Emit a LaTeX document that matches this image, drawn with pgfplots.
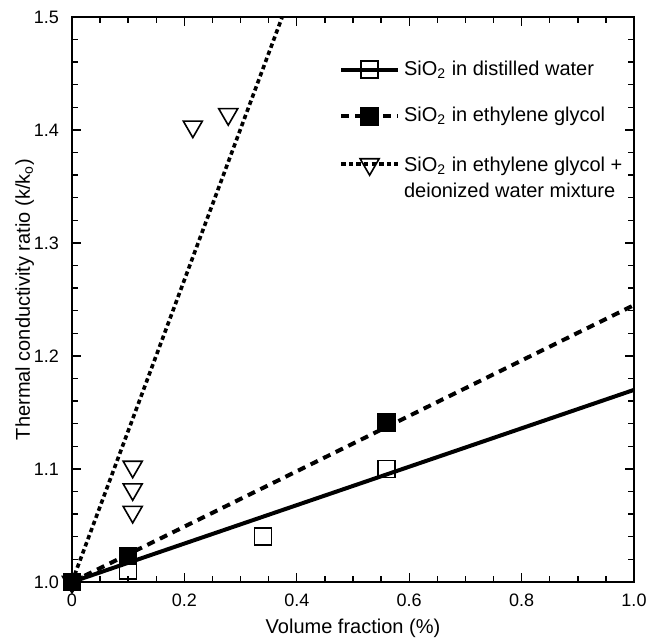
\documentclass[border=0pt]{standalone}
\usepackage{fontspec}
\setmainfont{Liberation Sans}
\usepackage{pgfplots}
\pgfplotsset{compat=1.18}
\pgfplotsset{longleg/.style={legend image code/.code={
    \draw (0cm,0cm) -- (1cm,0cm);
    \draw plot coordinates {(0.5cm,0cm)};}}}
\begin{document}
\begin{tikzpicture}
\begin{axis}[
  scale only axis,
  width=281pt, height=282.5pt,
  xmin=0, xmax=1, ymin=1, ymax=1.5,
  xtick={0,0.2,0.4,0.6,0.8,1.0},
  xticklabels={0,0.2,0.4,0.6,0.8,1.0},
  ytick={1.0,1.1,1.2,1.3,1.4,1.5},
  yticklabels={1.0,1.1,1.2,1.3,1.4,1.5},
  minor x tick num=3, minor y tick num=4,
  tick align=inside,
  major tick length=4.5pt, minor tick length=2.8pt,
  axis line style={line width=0.8pt},
  tick style={line width=0.7pt, black},
  tick label style={font=\fontsize{9}{10}\selectfont},
  xticklabel style={yshift=-2.5pt, inner xsep=1pt},
  yticklabel style={xshift=-3pt},
  label style={font=\fontsize{10}{12}\selectfont, inner sep=0.5pt},
  xlabel={Volume fraction (\%)},
  ylabel={Thermal conductivity ratio (k/k\textsubscript{o})},
  xlabel style={at={(axis description cs:0.5,0)}, anchor=base, yshift=-26pt},
  ylabel style={at={(axis description cs:0,0.5)}, anchor=base, yshift=21pt},
  legend style={draw=none, fill=none, at={(0.464,0.937)}, anchor=north west,
    font=\fontsize{10}{12.5}\selectfont, row sep=10.5pt, cells={anchor=west}},
]
% fitted lines
\addplot[forget plot, black, line width=2pt] coordinates {(0,1.0) (1.0,1.17)};
\addplot[forget plot, black, line width=2pt, dash pattern=on 4pt off 3pt] coordinates {(0,1.0) (1.0,1.245)};
\addplot[forget plot, black, line width=1.8pt, dash pattern=on 2.2pt off 1.6pt] coordinates {(0,1.0) (0.374,1.5)};
% measured points
\addplot[forget plot, only marks, mark=square, mark size=4.25pt, mark options={line width=0.8pt}]
  coordinates {(0,1.0) (0.1,1.01) (0.34,1.04) (0.56,1.10)};
\addplot[forget plot, only marks, mark=square*, mark size=4.25pt, mark options={line width=0.8pt, fill=black}]
  coordinates {(0,1.0) (0.1,1.023) (0.56,1.141)};
\addplot[forget plot, only marks, mark=triangle, mark size=5.5pt, mark options={line width=0.8pt, rotate=180, fill=white}]
  coordinates {(0,1.0) (0.108,1.102) (0.108,1.082) (0.108,1.062) (0.215,1.403) (0.278,1.414)};
\addlegendimage{longleg, black, line width=2pt, mark=square, mark size=4.25pt, mark options={solid, line width=0.8pt, fill=white}}
\addlegendentry{SiO\textsubscript{2} in distilled water}
\addlegendimage{longleg, black, line width=2pt, dash pattern=on 4pt off 3pt, mark=square*, mark size=4.25pt, mark options={solid, line width=0.8pt, fill=black}}
\addlegendentry{SiO\textsubscript{2} in ethylene glycol}
\addlegendimage{longleg, black, line width=1.8pt, dash pattern=on 2.2pt off 1.6pt, mark=triangle, mark size=5.5pt, mark options={solid, line width=0.8pt, rotate=180, fill=white}}
\addlegendentry{\raisebox{0pt}[\height][0pt]{\begin{tabular}[t]{@{}l@{}}SiO\textsubscript{2} in ethylene glycol +\\[0.5pt]deionized water mixture\end{tabular}}}
\end{axis}
\path ([xshift=-36pt, yshift=-28pt]current axis.south west);
\path ([xshift=7.5pt, yshift=8.5pt]current axis.north east);
\end{tikzpicture}
\end{document}
